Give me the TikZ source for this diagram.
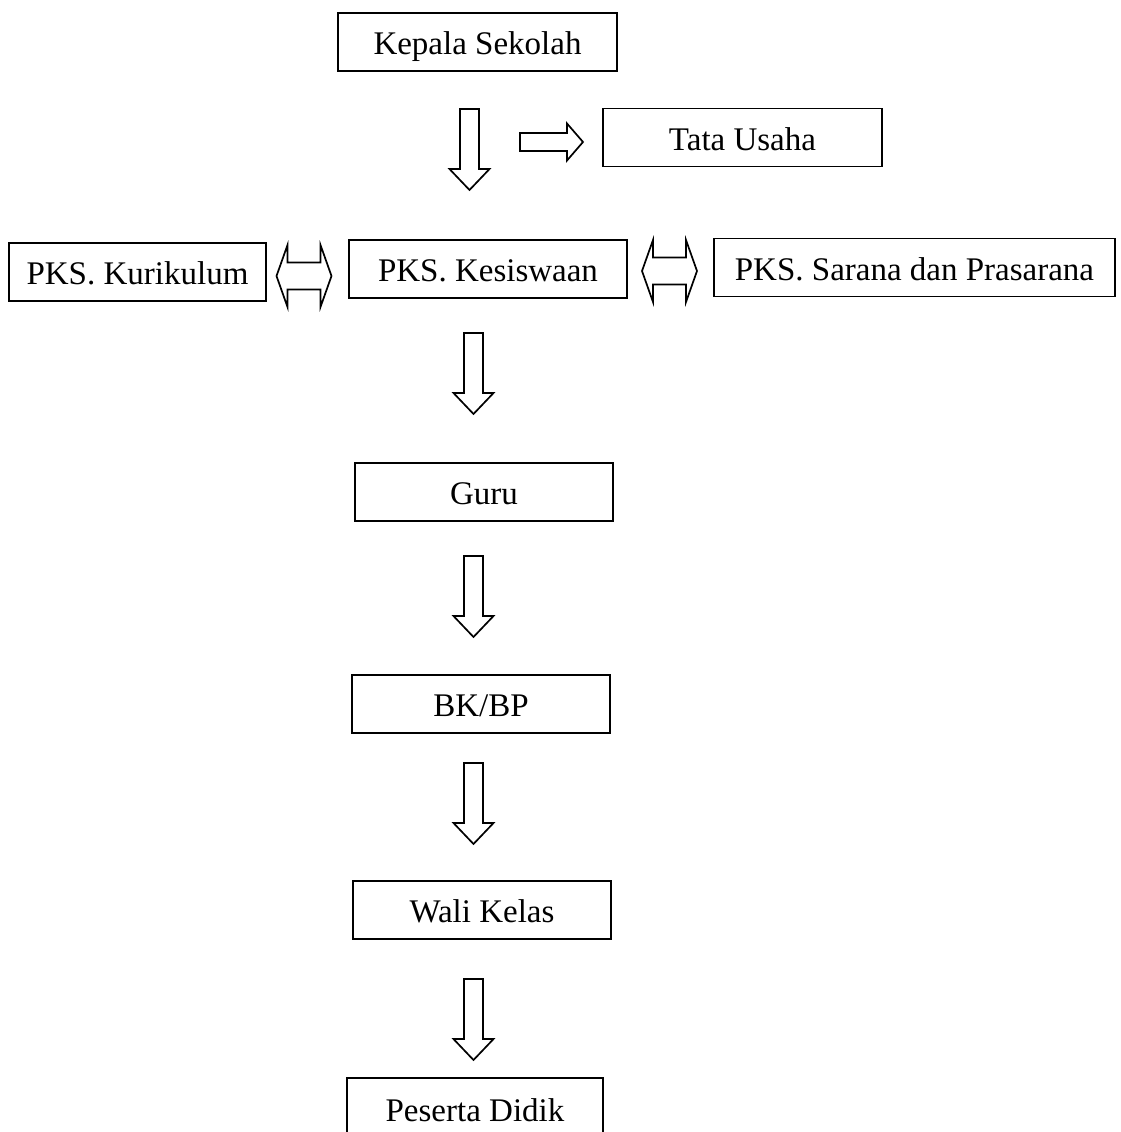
\documentclass[tikz,border=0pt]{standalone}
\usepackage{fontspec}
\setmainfont{Liberation Serif}
\tikzstyle{box}=[draw,rectangle,line width=1.9pt,minimum height=58pt,inner sep=0pt,
  text height=25pt,text depth=0pt,font=\fontsize{33}{40}\selectfont]
\tikzstyle{arrowline}=[draw,line width=1.7pt,line join=miter,fill=white]
\newcommand{\newBox}[4]{\node[box,minimum width=#3](#1) at (#4){#2};}
\newcommand{\newArrow}[3]{\coordinate (#1) at (#3); \pic at (#1) {#2};}
\tikzset{
  downarrow/.pic={\path[arrowline] (-9.5,0) -- (9.5,0) -- (9.5,60) -- (20,60)
    -- (0,81) -- (-20,60) -- (-9.5,60) -- cycle;},
  rightarrow/.pic={\path[arrowline] (0,-9) -- (47,-9) -- (47,-18.5) -- (63,0)
    -- (47,18.5) -- (47,9) -- (0,9) -- cycle;},
  botharrow/.pic={\path[arrowline] (-27.5,0) -- (-16.5,-31) -- (-16.5,-13.5)
    -- (16.5,-13.5) -- (16.5,-31) -- (27.5,0) -- (16.5,31) -- (16.5,13.5)
    -- (-16.5,13.5) -- (-16.5,31) -- cycle;}
}

\begin{document}
\begin{tikzpicture}[x=1pt,y=-1pt]
  \useasboundingbox (0,0) rectangle (1120,1132);
  % boxes
  \newBox{kepala}{Kepala Sekolah}{279pt}{477.5,42}
  \newBox{tata}{Tata Usaha}{279pt}{742.5,137.5}
  \newBox{kurikulum}{PKS. Kurikulum}{257pt}{137.5,272}
  \newBox{kesiswaan}{PKS. Kesiswaan}{278pt}{488,269}
  \newBox{sarana}{PKS. Sarana dan Prasarana}{401pt}{914.5,267.5}
  \newBox{guru}{Guru}{258pt}{484,492}
  \newBox{bkbp}{BK/BP}{258pt}{481,704}
  \newBox{wali}{Wali Kelas}{258pt}{482,910}
  \node[box,minimum width=256pt,minimum height=62pt](peserta) at (475,1109){Peserta Didik};
  % arrows
  \newArrow{a1}{downarrow}{469.5,109}
  \newArrow{a2}{rightarrow}{520,142}
  \newArrow{a3}{botharrow}{304,276}
  \newArrow{a4}{botharrow}{669.5,271}
  \newArrow{a5}{downarrow}{473.5,333}
  \newArrow{a6}{downarrow}{473.5,556}
  \newArrow{a7}{downarrow}{473.5,763}
  \newArrow{a8}{downarrow}{473.5,979}
\end{tikzpicture}
\end{document}
